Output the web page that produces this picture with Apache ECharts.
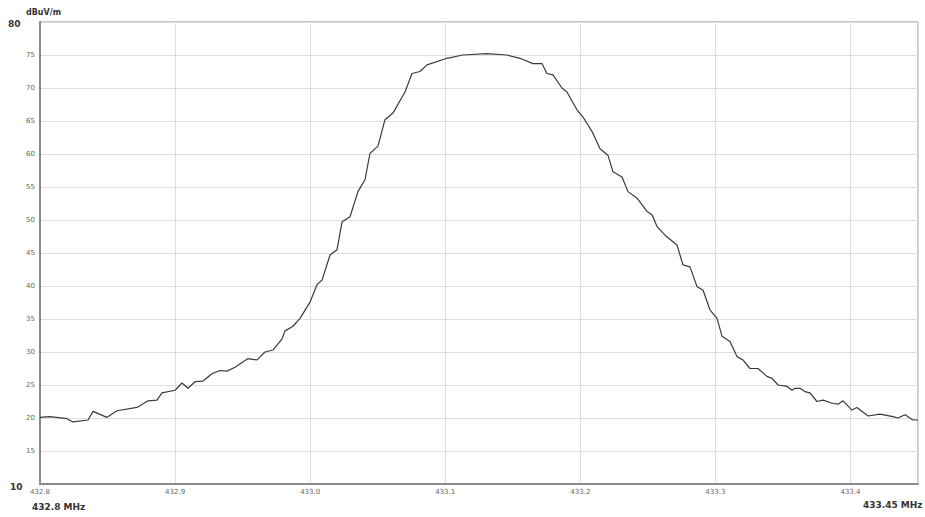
<!DOCTYPE html>
<html>
<head>
<meta charset="utf-8">
<script src="https://cdn.jsdelivr.net/npm/echarts@6/dist/echarts.min.js"></script>
<style>
html,body{margin:0;padding:0;background:#fff;}
#chart{width:925px;height:517px;}
</style>
</head>
<body>
<div id="chart"></div>
<script>
// Frequency (MHz) of each sample
const freqs = [
  432.8000, 432.8074, 432.8200, 432.8244, 432.8355, 432.8392, 432.8496, 432.8570, 432.8718, 432.8800,
  432.8866, 432.8903, 432.9000, 432.9051, 432.9096, 432.9147, 432.9207, 432.9273, 432.9333, 432.9384,
  432.9444, 432.9540, 432.9606, 432.9666, 432.9725, 432.9792, 432.9814, 432.9873, 432.9925, 433.0000,
  433.0051, 433.0088, 433.0147, 433.0199, 433.0236, 433.0295, 433.0354, 433.0406, 433.0443, 433.0502,
  433.0554, 433.0613, 433.0702, 433.0754, 433.0813, 433.0865, 433.1013, 433.1131, 433.1309, 433.1457,
  433.1553, 433.1650, 433.1716, 433.1753, 433.1798, 433.1864, 433.1901, 433.1975, 433.2020, 433.2087,
  433.2146, 433.2205, 433.2242, 433.2309, 433.2353, 433.2420, 433.2494, 433.2531, 433.2568, 433.2627,
  433.2716, 433.2760, 433.2812, 433.2864, 433.2908, 433.2960, 433.3012, 433.3049, 433.3108, 433.3160,
  433.3204, 433.3256, 433.3315, 433.3382, 433.3419, 433.3464, 433.3530, 433.3567, 433.3589, 433.3626,
  433.3663, 433.3700, 433.3752, 433.3797, 433.3871, 433.3908, 433.3945, 433.4011, 433.4048, 433.4130,
  433.4219, 433.4315, 433.4352, 433.4404, 433.4463, 433.4500
];
// Field strength (dBuV/m)
const levels = [
  20.1, 20.2, 19.9, 19.4, 19.7, 21.0, 20.1, 21.1, 21.6, 22.6,
  22.7, 23.8, 24.2, 25.3, 24.5, 25.5, 25.6, 26.7, 27.2, 27.1,
  27.7, 29.0, 28.8, 30.0, 30.3, 32.0, 33.2, 33.9, 35.1, 37.6,
  40.2, 40.9, 44.7, 45.5, 49.7, 50.5, 54.3, 56.1, 60.1, 61.2,
  65.2, 66.2, 69.4, 72.2, 72.5, 73.5, 74.5, 75.0, 75.2, 75.0,
  74.5, 73.7, 73.7, 72.2, 72.0, 70.0, 69.4, 66.7, 65.6, 63.4,
  60.8, 59.8, 57.3, 56.5, 54.3, 53.3, 51.3, 50.8, 49.0, 47.7,
  46.2, 43.2, 42.9, 39.9, 39.4, 36.4, 35.1, 32.4, 31.6, 29.3,
  28.8, 27.5, 27.5, 26.3, 26.0, 25.0, 24.8, 24.2, 24.5, 24.5,
  24.0, 23.8, 22.5, 22.7, 22.2, 22.1, 22.6, 21.2, 21.6, 20.3,
  20.6, 20.2, 20.0, 20.5, 19.7, 19.7
];
const yUnit = 'dBuV/m';
const xStartLabel = '432.8 MHz';
const xEndLabel = '433.45 MHz';
const yMinLabel = '10';
const yMaxLabel = '80';

const chart = echarts.init(document.getElementById('chart'), null, {renderer: 'svg'});
const pts = freqs.map((f, i) => [f, levels[i]]);
const lblFont = 'DejaVu Sans';
chart.setOption({
  animation: false,
  grid: {left: 40, right: 7, top: 22, bottom: 33, show: true, borderColor: '#8a8a8a', borderWidth: 1},
  xAxis: {
    type: 'value', min: 432.8, max: 433.45, interval: 0.1,
    axisLine: {show: true, lineStyle: {color: '#8a8a8a', width: 2}},
    axisTick: {show: false},
    splitLine: {show: true, lineStyle: {color: '#dedede', width: 1}},
    axisLabel: {color: '#666', fontSize: 7, fontFamily: lblFont, margin: 4, showMaxLabel: false,
      formatter: v => v.toFixed(1)}
  },
  yAxis: {
    type: 'value', min: 10, max: 80, interval: 5,
    axisLine: {show: true, lineStyle: {color: '#8a8a8a', width: 2}},
    axisTick: {show: false},
    splitLine: {show: true, lineStyle: {color: '#dedede', width: 1}},
    axisLabel: {color: '#666', fontSize: 7, fontFamily: lblFont, margin: 5,
      showMinLabel: false, showMaxLabel: false}
  },
  graphic: [
    {type: 'text', left: 8, top: 19, style: {text: yMaxLabel, font: 'bold 9px ' + lblFont, fill: '#333'}},
    {type: 'text', left: 10, top: 482, style: {text: yMinLabel, font: 'bold 9px ' + lblFont, fill: '#333'}},
    {type: 'text', left: 26, top: 8, style: {text: yUnit, font: 'bold 8px ' + lblFont, fill: '#333'}},
    {type: 'text', left: 32, top: 502, style: {text: xStartLabel, font: 'bold 9px ' + lblFont, fill: '#333'}},
    {type: 'text', left: 863, top: 500, style: {text: xEndLabel, font: 'bold 9px ' + lblFont, fill: '#333'}}
  ],
  series: [{
    type: 'line', data: pts, showSymbol: false, smooth: false,
    lineStyle: {color: '#3a3a3a', width: 1.2}
  }]
});
</script>
</body>
</html>
